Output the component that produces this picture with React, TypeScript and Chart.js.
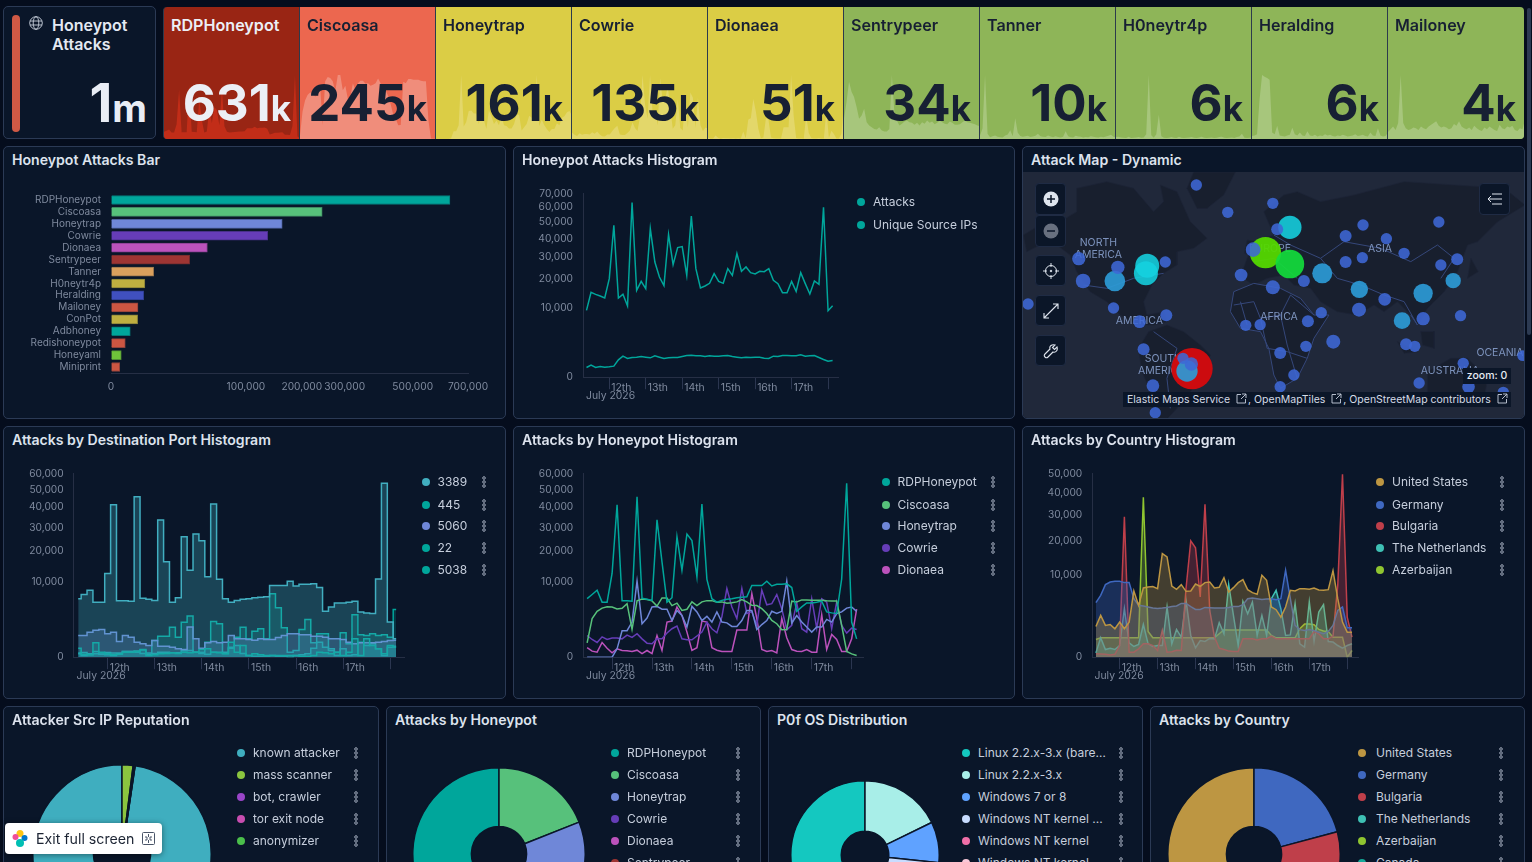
import { useEffect, useRef } from 'react';
import { Chart, LinearScale, registerables } from 'chart.js';

// square-root axis, the dashboard's charts all use one
class SqrtScale extends LinearScale {
  static id = 'sqrt';
  static defaults = LinearScale.defaults;
  getPixelForValue(value: number) {
    if (value === null || value === undefined) return NaN;
    const span = Math.sqrt(this.max) - Math.sqrt(this.min);
    return this.getPixelForDecimal((Math.sqrt(Math.max(value, 0)) - Math.sqrt(this.min)) / span);
  }
}

Chart.register(...registerables, SqrtScale);

const FONT = 'Inter, "Noto Sans", sans-serif';
const AXIS_TEXT = '#7f8a9e';
const AXIS_LINE = '#262f45';
const LEGEND_TEXT = '#c6cedc';
const TITLE_TEXT = '#dde3ee';
const PANEL_BG = '#0a1629';
const PANEL_EDGE = '#2b3a55';

// ---- data ----
const hours = [-15, -12, -9, -6, -3, 0, 3, 6, 9, 12, 15, 18, 21, 24, 27, 30, 33, 36, 39, 42, 45, 48, 51, 54, 57, 60, 63, 66, 69, 72, 75, 78, 81, 84, 87, 90, 93, 96, 99, 102, 105, 108, 111, 114, 117, 120, 123, 126, 129, 132, 135, 138, 141, 144, 147];
const dayTicks = [0, 24, 48, 72, 96, 120, 144];
const dayLabels = ['12th', '13th', '14th', '15th', '16th', '17th', ''];

const honeypots = ['RDPHoneypot', 'Ciscoasa', 'Honeytrap', 'Cowrie', 'Dionaea', 'Sentrypeer', 'Tanner', 'H0neytr4p', 'Heralding', 'Mailoney', 'ConPot', 'Adbhoney', 'Redishoneypot', 'Honeyaml', 'Miniprint'];
const honeypotTotals = [631000, 245000, 161000, 135000, 51000, 34000, 10000, 6300, 5900, 4000, 3900, 2040, 1120, 580, 415];
const honeypotColors = ['#00a69b', '#57c17b', '#6f87d8', '#663db8', '#bc52bc', '#9e3533', '#daa05d', '#bfaf40', '#4050bf', '#cc5642', '#bfaf40', '#00a69b', '#cc5642', '#6fc43a', '#cc5642'];
const barTicks = [0, 100000, 200000, 300000, 500000, 700000];

const attacks = [9280, 14970, 14270, 13700, 13030, 20190, 48000, 13030, 14270, 10530, 63460, 15680, 19100, 16290, 45940, 27600, 20880, 17420, 42300, 26350, 34900, 35470, 21580, 53900, 24500, 16540, 17290, 18320, 22300, 19100, 18320, 24500, 21580, 31760, 23310, 25260, 22730, 22150, 23310, 23170, 24500, 19500, 18190, 14850, 14850, 19100, 15320, 22730, 18190, 14380, 19240, 17930, 60100, 9190, 10620];
const uniqueIps = [195, 300, 195, 238, 209, 223, 253, 627, 920, 728, 808, 835, 892, 835, 780, 950, 835, 728, 780, 808, 808, 892, 980, 1010, 950, 950, 892, 950, 920, 920, 950, 980, 892, 835, 780, 835, 808, 835, 835, 755, 728, 920, 892, 980, 980, 950, 950, 1040, 920, 950, 980, 808, 650, 535, 580];

const rdpHoneypot = [6100, 7000, 8000, 5400, 5400, 12500, 41400, 5700, 5700, 5600, 45900, 6200, 6000, 5750, 33600, 16200, 5400, 6300, 25800, 13500, 27000, 24200, 11500, 41800, 10800, 6100, 5400, 5750, 6000, 6100, 6300, 6400, 6500, 9150, 9150, 9150, 10300, 9050, 9500, 9500, 9600, 8650, 3750, 4500, 5250, 5250, 5400, 5600, 3650, 3500, 3400, 10900, 53900, 2200, 600];
const ciscoasa = [370, 2650, 3750, 4300, 4550, 4500, 4150, 4250, 5100, 1370, 5650, 6050, 5950, 5650, 4650, 6250, 6250, 4750, 5200, 3900, 4100, 5450, 4750, 5450, 5700, 5700, 5400, 5450, 5200, 5300, 5450, 5900, 5450, 4800, 4750, 4200, 3400, 2400, 2000, 1350, 1370, 5600, 5450, 5850, 5850, 5780, 5780, 5780, 5700, 5650, 5650, 1800, 60, 20, 5];
const honeytrap = [0, 0, 0, 0, 0, 0, 125, 1250, 1250, 2200, 10300, 2000, 2740, 4500, 4600, 4100, 4100, 2400, 3900, 3100, 1620, 4600, 3650, 2400, 2970, 2200, 3650, 2200, 2100, 1690, 1690, 2400, 3900, 3900, 1370, 1900, 2400, 3750, 3400, 3750, 10300, 2080, 3100, 2200, 1620, 1120, 1620, 1620, 2550, 2200, 3400, 3650, 4300, 4500, 3750];
const cowrie = [840, 560, 385, 740, 560, 650, 650, 600, 870, 700, 980, 600, 350, 320, 600, 600, 1040, 1445, 1730, 600, 540, 540, 800, 1120, 2200, 1445, 1065, 2900, 8400, 4500, 2650, 8400, 3400, 3700, 1800, 8000, 4900, 5100, 7000, 4200, 1340, 1800, 5250, 1445, 1120, 6100, 1500, 6100, 5400, 1445, 5400, 1800, 1040, 1500, 1370];
const dionaea = [160, 65, 45, 385, 145, 35, 125, 80, 72, 58, 88, 24, 80, 24, 840, 80, 2200, 2330, 4500, 3100, 1120, 80, 160, 2330, 2200, 160, 88, 58, 58, 58, 1310, 1310, 1310, 7200, 2650, 105, 58, 80, 34, 2650, 670, 105, 65, 58, 105, 45, 45, 3230, 105, 925, 560, 58, 58, 600, 4100];
const sentrypeer = [660, 1210, 1870, 1540, 1375, 1045, 660, 770, 990, 550, 440, 385, 330, 308, 385, 275, 242, 242, 330, 2090, 880, 605, 440, 495, 572, 605, 550, 528, 462, 528, 440, 550, 495, 605, 528, 572, 484, 528, 605, 550, 495, 484, 572, 528, 462, 462, 484, 550, 605, 550, 528, 506, 484, 440, 418];
const tanner = [140, 420, 2590, 210, 70, 110, 140, 90, 70, 60, 140, 180, 350, 110, 840, 250, 120, 90, 110, 130, 80, 100, 130, 210, 110, 90, 80, 140, 100, 70, 110, 80, 60, 90, 310, 110, 70, 60, 130, 100, 90, 60, 80, 70, 110, 90, 70, 60, 90, 70, 100, 130, 170, 90, 70];
const h0neytr4p = [60, 70, 50, 40, 30, 70, 30, 40, 50, 60, 40, 50, 150, 2035, 120, 40, 150, 770, 90, 40, 30, 40, 60, 40, 30, 70, 40, 30, 40, 50, 60, 40, 30, 50, 70, 40, 30, 40, 50, 30, 40, 60, 70, 40, 30, 40, 50, 30, 60, 80, 170, 40, 30, 40, 50];
const heralding = [50, 60, 80, 660, 1070, 1040, 1020, 990, 110, 80, 220, 60, 50, 40, 60, 70, 190, 80, 60, 110, 60, 50, 130, 60, 50, 70, 40, 60, 50, 80, 60, 70, 50, 40, 60, 50, 70, 60, 40, 50, 60, 80, 50, 60, 70, 50, 40, 110, 60, 50, 180, 60, 40, 50, 110];
const mailoney = [40, 55, 70, 50, 90, 360, 90, 60, 50, 55, 65, 60, 50, 70, 60, 55, 70, 80, 90, 100, 75, 65, 70, 65, 55, 60, 85, 75, 100, 70, 60, 55, 65, 50, 75, 60, 50, 45, 65, 55, 70, 60, 50, 45, 80, 60, 55, 70, 65, 75, 50, 45, 60, 55, 110];

const port445 = [145, 16, 10, 368, 45, 20, 10, 16, 45, 45, 58, 105, 5, 10, 20, 24, 34, 24, 45, 34, 45, 105, 124, 45, 34, 20, 403, 45, 244, 5, 20, 10, 5, 5, 5, 5, 5, 5, 2, 2, 5, 45, 34, 20, 45, 5, 45, 602, 5, 602, 244, 124, 20, 244, 179];
const port5060 = [840, 840, 1120, 1305, 1370, 975, 1120, 440, 840, 716, 403, 318, 244, 497, 217, 217, 179, 124, 105, 1612, 602, 145, 368, 440, 368, 403, 840, 602, 602, 559, 518, 602, 559, 559, 693, 840, 975, 975, 893, 893, 790, 790, 716, 602, 602, 559, 403, 318, 368, 368, 368, 403, 440, 497, 518];
const port22 = [30, 40, 20, 60, 30, 40, 30, 30, 60, 60, 70, 90, 30, 497, 790, 790, 1610, 716, 2190, 3010, 45, 45, 403, 2280, 1990, 45, 179, 716, 1610, 602, 1210, 1440, 602, 7180, 4360, 1540, 45, 80, 1370, 2540, 368, 975, 975, 80, 45, 1060, 318, 3210, 893, 840, 975, 840, 893, 716, 4070];
const port5038 = [20, 5, 10, 20, 16, 10, 5, 20, 58, 58, 45, 24, 16, 24, 45, 45, 34, 34, 72, 80, 45, 24, 16, 45, 45, 24, 145, 244, 24, 5, 2, 2, 2, 5, 2, 2, 0, 5, 10, 20, 145, 403, 179, 124, 5, 124, 5, 10, 403, 244, 318, 124, 5, 179, 217];

const unitedStates = [1405, 2590, 1500, 1590, 1200, 1830, 1200, 1830, 6500, 3990, 7110, 7320, 7400, 6980, 15950, 14940, 7530, 6840, 7820, 6440, 6500, 7960, 7460, 8260, 8410, 7110, 7250, 9400, 6310, 7180, 8260, 8930, 6770, 6180, 5870, 9960, 8780, 3740, 3350, 2390, 3740, 6640, 6500, 6980, 6980, 6840, 7110, 6710, 6640, 6770, 11140, 5080, 1830, 930, 930];
const germany = [4410, 5680, 7820, 8400, 8550, 8550, 8260, 8260, 5080, 3990, 3890, 3740, 3590, 3530, 3590, 3680, 3800, 3890, 4300, 4300, 3800, 3390, 3390, 3680, 3630, 3590, 3590, 3590, 3680, 3800, 3800, 4090, 5080, 5200, 5080, 4950, 5010, 5080, 4900, 5080, 11220, 5080, 1500, 1130, 1050, 1130, 1050, 930, 820, 980, 1500, 3250, 3740, 1290, 1290];
const bulgaria = [17, 15, 12, 8, 12, 200, 29300, 37, 37, 104, 265, 265, 200, 66, 1060, 37, 45, 70, 66, 7000, 20100, 17750, 5380, 34700, 3250, 600, 120, 90, 55, 48, 48, 500, 500, 500, 440, 500, 500, 660, 500, 500, 500, 500, 500, 500, 500, 500, 985, 815, 500, 500, 660, 7670, 49700, 2390, 600];
const netherlands = [28, 558, 88, 121, 88, 203, 3490, 307, 170, 240, 1590, 266, 170, 203, 203, 3735, 266, 1144, 598, 4800, 701, 130, 415, 367, 520, 500, 1760, 813, 7820, 2590, 203, 4630, 2800, 4520, 700, 2590, 700, 5080, 6640, 3490, 700, 740, 4250, 266, 150, 4520, 367, 3020, 4090, 367, 340, 203, 121, 203, 266];
const azerbaijan = [466, 558, 558, 558, 558, 558, 558, 558, 558, 558, 37930, 984, 558, 558, 558, 558, 558, 558, 558, 558, 558, 558, 558, 558, 558, 558, 813, 1116, 1100, 1100, 1100, 1100, 1100, 1100, 1100, 1100, 1100, 701, 558, 558, 558, 558, 558, 1200, 1627, 1627, 1560, 1144, 1020, 980, 598, 598, 598, 0, 66];

const reputationLabels = ['known attacker', 'mass scanner', 'bot, crawler', 'tor exit node', 'anonymizer'];
const reputationValues = [97.5, 2, 0.2, 0.1, 0.05];
const reputationColors = ['#3faebf', '#8bc53f', '#9a45c8', '#c84db0', '#4bbf4b'];
const osLabels = ['Linux 2.2.x-3.x (bare…', 'Linux 2.2.x-3.x', 'Windows 7 or 8', 'Windows NT kernel ...', 'Windows NT kernel', 'Windows NT kernel'];
const osValues = [180, 64, 32, 38, 26, 20];
const osColors = ['#14c8c0', '#a8eee8', '#5fa2ff', '#c8dcff', '#f06fa8', '#f8c8d8'];
const countryLabels = ['United States', 'Germany', 'Bulgaria', 'The Netherlands', 'Azerbaijan', 'Canada'];
const countryValues = [420000, 175000, 98000, 65000, 47000, 35000];
const countryColors = ['#bd9642', '#3f68c0', '#bf3f4a', '#3ec0b4', '#8fc530', '#14a898'];

// map polygons and bubbles, in 3x crop units of the map panel
const landShapes = [
  [[10, 270], [60, 240], [120, 230], [170, 200], [170, 130], [260, 110], [340, 130], [400, 200], [430, 170], [420, 120], [470, 140], [510, 230], [560, 280], [520, 310], [470, 320], [470, 360], [430, 385], [395, 420], [370, 470], [380, 510], [430, 500], [440, 530], [400, 540], [350, 540], [300, 510], [260, 470], [210, 440], [170, 380], [150, 330], [110, 300], [60, 300], [20, 320]],
  [[520, 81], [645, 81], [610, 150], [560, 190], [530, 190], [500, 130]],
  [[385, 560], [440, 540], [490, 560], [540, 600], [570, 630], [545, 700], [510, 740], [470, 790], [440, 822], [395, 822], [400, 760], [365, 680], [355, 610]],
  [[640, 440], [700, 415], [780, 430], [840, 460], [880, 510], [925, 510], [880, 580], [860, 640], [830, 700], [780, 730], [760, 690], [745, 610], [720, 560], [660, 550], [630, 500]],
  [[660, 395], [680, 340], [700, 290], [760, 270], [730, 200], [790, 150], [830, 140], [900, 170], [1000, 150], [1150, 110], [1300, 120], [1450, 130], [1512, 180], [1430, 230], [1370, 290], [1340, 300], [1310, 380], [1270, 440], [1220, 490], [1190, 540], [1170, 510], [1130, 470], [1090, 500], [1060, 480], [1010, 510], [950, 500], [900, 470], [870, 430], [820, 420], [790, 390], [740, 400], [700, 420]],
  [[1220, 680], [1290, 640], [1340, 640], [1400, 700], [1390, 760], [1330, 780], [1280, 750], [1220, 760]],
  [[1130, 590], [1190, 620], [1150, 625]],
  [[1350, 340], [1372, 380], [1340, 400]],
  [[680, 285], [702, 290], [692, 332], [672, 325]],
  [[1200, 560], [1240, 560], [1240, 610], [1205, 600]],
];
const borderLines = [
  [[640, 440], [700, 415], [780, 430], [840, 460], [880, 510], [925, 510], [880, 580], [860, 640], [830, 700], [780, 730], [760, 690], [745, 610], [720, 560], [660, 550], [630, 500], [640, 440]],
  [[640, 480], [700, 470], [720, 520], [780, 510], [810, 450]],
  [[720, 520], [740, 610], [800, 620], [860, 640]],
  [[780, 510], [800, 600], [830, 700]],
  [[660, 470], [680, 540]],
  [[810, 450], [880, 510]],
  [[900, 340], [970, 290], [1080, 310], [1170, 350], [1250, 300], [1300, 340], [1260, 400]],
  [[900, 340], [950, 400], [1020, 420], [1090, 450], [1150, 470]],
  [[1150, 470], [1190, 540], [1170, 510]],
  [[760, 270], [810, 300], [900, 340]],
  [[700, 350], [760, 340], [830, 400]],
  [[190, 420], [260, 430], [340, 400], [430, 385]],
  [[400, 560], [470, 610], [440, 700], [450, 790]],
];
const smallBubbles = [[698, 314, 22], [513, 657, 20], [488, 640, 17], [528, 120, 17], [622, 202, 17], [757, 175, 17], [770, 253, 18], [1027, 240, 17], [975, 273, 18], [1097, 281, 17], [1254, 231, 17], [1150, 325, 17], [1025, 338, 17], [975, 351, 18], [1260, 360, 17], [1309, 343, 18], [435, 351, 17], [176, 341, 20], [293, 367, 20], [189, 408, 22], [24, 477, 17], [280, 489, 17], [438, 511, 18], [358, 530, 19], [662, 390, 19], [757, 427, 21], [850, 408, 18], [1092, 463, 19], [1015, 494, 21], [1207, 521, 20], [1319, 512, 17], [902, 503, 17], [862, 529, 18], [719, 539, 17], [676, 541, 17], [938, 590, 21], [856, 604, 17], [779, 624, 18], [370, 613, 18], [1156, 598, 18], [1182, 604, 17], [1327, 655, 17], [820, 690, 17], [398, 722, 19], [1195, 714, 17], [779, 725, 17], [1343, 725, 19], [1447, 742, 17], [405, 803, 17], [1505, 632, 16]];
const midBubbles = [[1297, 407, 23], [1207, 445, 29], [1144, 527, 25], [1016, 433, 26], [905, 385, 30], [284, 408, 31], [500, 678, 32]];
const cyanBubbles = [[808, 247, 35], [381, 362, 36], [377, 385, 36]];
const greenBubbles = [[735, 323, 47], [808, 357, 43]];
const redBubbles = [[515, 671, 62]];
const mapLabels = [
  ['NORTH', 235, 292], ['AMERICA', 235, 328], ['AMERICA', 358, 524], ['EUROPE', 750, 310], ['ASIA', 1080, 310],
  ['AFRICA', 777, 514], ['SOUTH', 430, 638], ['AMERICA', 425, 675], ['OCEANIA', 1440, 620], ['AUSTRALIA', 1290, 675],
];

// ---- chart configs ----
const toPoints = (values: number[]) => values.map((y, i) => ({ x: hours[i], y }));
const toXY = (list: number[][]) => list.map(([x, y]) => ({ x, y }));
const toBubbles = (list: number[][]) => list.map(([x, y, r]) => ({ x, y, r: r / 3 }));

function lineSet(label: string, values: number[], color: string, extra = {}) {
  return {
    label,
    data: toPoints(values),
    borderColor: color,
    borderWidth: 1.5,
    pointRadius: 0,
    tension: 0,
    ...extra,
  };
}

function timeConfig(box: any, plot: any, yMax: number, yTicks: number[], datasets: any[]) {
  return {
    type: 'line',
    data: { datasets },
    options: {
      animation: false,
      responsive: false,
      events: [],
      layout: { autoPadding: false, padding: { top: plot.top, right: box.width - plot.right, left: 0, bottom: 0 } },
      plugins: { legend: { display: false }, tooltip: { enabled: false } },
      scales: {
        x: {
          type: 'linear',
          min: -17.3,
          max: 151,
          afterBuildTicks: (s: any) => { s.ticks = dayTicks.map((value) => ({ value })); },
          afterFit: (s: any) => { s.height = box.height - plot.bottom; s.paddingLeft = 0; s.paddingRight = 0; },
          grid: { drawOnChartArea: false, drawTicks: true, tickLength: 12, tickColor: '#2b3650' },
          border: { color: AXIS_LINE },
          ticks: {
            autoSkip: false,
            maxRotation: 0,
            align: 'start',
            labelOffset: 2,
            padding: -8,
            color: AXIS_TEXT,
            font: { family: FONT, size: 10.4 },
            callback: (v: number) => dayLabels[dayTicks.indexOf(v)] ?? '',
          },
        },
        y: {
          type: 'sqrt',
          min: 0,
          max: yMax,
          afterBuildTicks: (s: any) => { s.ticks = yTicks.map((value) => ({ value })); },
          afterFit: (s: any) => { s.width = plot.left; s.paddingTop = 0; s.paddingBottom = 0; },
          grid: { drawOnChartArea: false, drawTicks: false },
          border: { color: AXIS_LINE },
          ticks: {
            padding: 10,
            color: AXIS_TEXT,
            font: { family: FONT, size: 10.2 },
            callback: (v: number) => v.toLocaleString('en-US'),
          },
        },
      },
    },
  };
}

const barBox = { width: 503, height: 273 };
const barConfig = () => ({
  type: 'bar',
  data: {
    labels: honeypots,
    datasets: [{
      data: honeypotTotals,
      backgroundColor: honeypotColors,
      borderColor: honeypotColors.map((c) => c + 'b0'),
      borderWidth: 1,
      barThickness: 9,
    }],
  },
  options: {
    indexAxis: 'y',
    animation: false,
    responsive: false,
    events: [],
    layout: { autoPadding: false, padding: { top: 48, right: 38, left: 0, bottom: 0 } },
    plugins: { legend: { display: false }, tooltip: { enabled: false } },
    scales: {
      x: {
        type: 'sqrt',
        min: 0,
        max: 700000,
        afterBuildTicks: (s: any) => { s.ticks = barTicks.map((value) => ({ value })); },
        afterFit: (s: any) => { s.height = 46; s.paddingLeft = 0; s.paddingRight = 0; },
        grid: { drawOnChartArea: false, drawTicks: false },
        border: { color: AXIS_LINE },
        ticks: {
          autoSkip: false,
          maxRotation: 0,
          padding: 8,
          color: AXIS_TEXT,
          font: { family: FONT, size: 10.2 },
          callback: (v: number) => v.toLocaleString('en-US'),
        },
      },
      y: {
        afterFit: (s: any) => { s.width = 108; },
        grid: { display: false },
        border: { display: false },
        ticks: {
          autoSkip: false,
          padding: 2,
          color: AXIS_TEXT,
          font: { family: FONT, size: 10 },
        },
      },
    },
  },
});

const mapScales = {
  x: { type: 'linear', display: false, min: 6, max: 1512 },
  y: { type: 'linear', display: false, min: 81, max: 822, reverse: true },
};
const baseMapConfig = () => ({
  type: 'scatter',
  data: {
    datasets: [
      ...borderLines.map((line) => ({
        data: toXY(line),
        showLine: true,
        borderColor: '#35477a',
        borderWidth: 1,
        pointRadius: 0,
      })),
      ...landShapes.map((shape) => ({
        data: toXY([...shape, shape[0]]),
        showLine: true,
        fill: 'shape',
        backgroundColor: '#181f2e',
        borderColor: '#1c2436',
        borderWidth: 0.7,
        pointRadius: 0,
      })),
    ],
  },
  options: {
    animation: false,
    responsive: false,
    events: [],
    layout: { autoPadding: false },
    plugins: { legend: { display: false }, tooltip: { enabled: false } },
    scales: mapScales,
  },
});
const bubbleMapConfig = () => ({
  type: 'bubble',
  data: {
    datasets: [
      { data: toBubbles(smallBubbles), backgroundColor: 'rgba(62,104,214,0.88)', borderWidth: 0 },
      { data: toBubbles(midBubbles), backgroundColor: 'rgba(44,154,214,0.92)', borderWidth: 0 },
      { data: toBubbles(cyanBubbles), backgroundColor: 'rgba(20,210,224,0.88)', borderWidth: 0 },
      { data: toBubbles(greenBubbles), backgroundColor: ['rgba(84,216,0,0.95)', 'rgba(20,220,60,0.92)'], borderWidth: 0 },
      { data: toBubbles(redBubbles), backgroundColor: '#cc0b0f', borderWidth: 0 },
    ],
  },
  options: {
    animation: false,
    responsive: false,
    events: [],
    layout: { autoPadding: false },
    plugins: { legend: { display: false }, tooltip: { enabled: false } },
    scales: mapScales,
  },
});

function sparkConfig(values: number[], color: string) {
  return {
    type: 'line',
    data: {
      datasets: [lineSet('', values, color, { borderWidth: 0, fill: 'origin', backgroundColor: color })],
    },
    options: {
      animation: false,
      responsive: false,
      events: [],
      layout: { autoPadding: false },
      plugins: { legend: { display: false }, tooltip: { enabled: false } },
      scales: {
        x: { type: 'linear', display: false, min: -15, max: 147 },
        y: { type: 'linear', display: false, min: 0, max: Math.max(...values) },
      },
    },
  };
}

// the first slice runs counter-clockwise from 12 o'clock, the rest clockwise
function donutConfig(values: number[], colors: string[], cutout: string) {
  const total = values.reduce((a, b) => a + b, 0);
  return {
    type: 'doughnut',
    data: {
      datasets: [{ data: values, backgroundColor: colors, borderColor: PANEL_BG, borderWidth: 1.5 }],
    },
    options: {
      animation: false,
      responsive: false,
      events: [],
      rotation: -(values[0] / total) * 360,
      cutout,
      plugins: { legend: { display: false }, tooltip: { enabled: false } },
    },
  };
}

// ---- small pieces ----
function ChartCanvas({ left, top, width, height, config }: any) {
  const ref = useRef<HTMLCanvasElement>(null);
  useEffect(() => {
    if (!ref.current) return;
    const chart = new Chart(ref.current, config());
    return () => chart.destroy();
  }, [config]);
  return <canvas ref={ref} width={width} height={height} style={{ position: 'absolute', left, top, width, height, display: 'block' }} />;
}

function Text({ x, y, size = 12, color = LEGEND_TEXT, weight = 400, children }: any) {
  return (
    <div style={{ position: 'absolute', left: x, top: y, transform: 'translateY(-50%)', fontSize: size, color, fontWeight: weight, whiteSpace: 'nowrap', lineHeight: 1.1 }}>
      {children}
    </div>
  );
}

function Panel({ x, y, w, h, title }: any) {
  return (
    <>
      <div style={{ position: 'absolute', left: x, top: y, width: w, height: h, background: PANEL_BG, border: `1px solid ${PANEL_EDGE}`, borderRadius: 5, boxSizing: 'border-box' }} />
      <Text x={x + 9} y={y + 14} size={14.1} weight={600} color={TITLE_TEXT}>{title}</Text>
    </>
  );
}

function LegendDots({ x, y }: any) {
  return (
    <svg style={{ position: 'absolute', left: x - 3, top: y - 6 }} width="6" height="12" viewBox="0 0 6 12">
      {[2, 6, 10].map((cy) => <circle key={cy} cx="3" cy={cy} r="1.3" fill="none" stroke="#aeb7c7" strokeWidth="0.9" />)}
    </svg>
  );
}

function Legend({ dotX, textX, menuX, ys, labels, colors }: any) {
  return (
    <>
      {labels.map((label: string, i: number) => (
        <div key={i}>
          <div style={{ position: 'absolute', left: dotX - 4, top: ys[i] - 4, width: 8, height: 8, borderRadius: 4, background: colors[i] }} />
          <Text x={textX} y={ys[i]}>{label}</Text>
          {menuX ? <LegendDots x={menuX} y={ys[i]} /> : null}
        </div>
      ))}
    </>
  );
}

function JulyLabel({ x, y }: any) {
  return <Text x={x} y={y} size={10.4} color={AXIS_TEXT}>July 2026</Text>;
}

function Tile({ left, width = 136, radius = '0', label, big, color, spark, ink, series }: any) {
  const config = useRef(() => sparkConfig(series, spark)).current;
  return (
    <div style={{ position: 'absolute', left, top: 7, width, height: 132, background: color, borderLeft: '1px solid #2c3a4c', boxSizing: 'border-box', overflow: 'hidden', borderRadius: radius }}>
      <ChartCanvas left={0} top={68} width={width} height={64} config={config} />
      <div style={{ position: 'absolute', left: 7, top: 7.5, fontSize: 16.1, fontWeight: 600, color: ink, whiteSpace: 'nowrap' }}>{label}</div>
      <div style={{ position: 'absolute', right: 8, top: 66, height: 60, lineHeight: '60px', fontSize: 51, fontWeight: 700, color: ink, whiteSpace: 'nowrap' }}>
        {big}<span style={{ fontSize: 35 }}>k</span>
      </div>
    </div>
  );
}

const MapButton = ({ x, y, h = 31, children }: any) => (
  <div style={{ position: 'absolute', left: x, top: y, width: 31, height: h, background: '#0b1628', border: '1px solid #1f2b44', borderRadius: 4, boxSizing: 'border-box', display: 'flex', alignItems: 'center', justifyContent: 'center' }}>
    {children}
  </div>
);

const ExternalIcon = () => (
  <svg width="11" height="11" viewBox="0 0 11 11" style={{ margin: '0 1px 0 6px', verticalAlign: -1 }}>
    <path d="M5 1.5H1v8.5h8.5V6M6 1h4v4M10 1 5 6" fill="none" stroke="#c6cedc" strokeWidth="0.9" />
  </svg>
);

// ---- per-chart config makers, kept stable for useEffect ----
const histBox = { width: 500, height: 273 };
const histConfig = () => timeConfig(histBox, { left: 70, top: 47.7, right: 325.7, bottom: 231.2 }, 70000, [0, 10000, 20000, 30000, 40000, 50000, 60000, 70000], [
  lineSet('Attacks', attacks, '#00a69b'),
  lineSet('Unique Source IPs', uniqueIps, '#00a69b'),
]);
const portConfig = () => timeConfig(barBox, { left: 70.7, top: 47.7, right: 401, bottom: 231.2 }, 60000, [0, 10000, 20000, 30000, 40000, 50000, 60000], [
  lineSet('3389', rdpHoneypot, '#41aec0', { stepped: 'middle', fill: 'origin', backgroundColor: 'rgba(65,174,192,0.3)' }),
  lineSet('445', port445, '#00a69b', { stepped: 'middle', fill: 'origin', backgroundColor: 'rgba(0,166,155,0.22)' }),
  lineSet('5060', port5060, '#6f87d8', { stepped: 'middle', fill: 'origin', backgroundColor: 'rgba(111,135,216,0.25)' }),
  lineSet('22', port22, '#00a69b', { stepped: 'middle', fill: 'origin', backgroundColor: 'rgba(0,166,155,0.22)' }),
  lineSet('5038', port5038, '#00a69b', { stepped: 'middle', fill: 'origin', backgroundColor: 'rgba(0,166,155,0.22)' }),
]);
const honeypotConfig = () => timeConfig(histBox, { left: 70.3, top: 47.7, right: 350.3, bottom: 231.2 }, 60000, [0, 10000, 20000, 30000, 40000, 50000, 60000], [
  lineSet('RDPHoneypot', rdpHoneypot, '#00a69b'),
  lineSet('Ciscoasa', ciscoasa, '#57c17b'),
  lineSet('Honeytrap', honeytrap, '#6f87d8'),
  lineSet('Cowrie', cowrie, '#663db8'),
  lineSet('Dionaea', dionaea, '#bc52bc'),
]);
const countryConfig = () => timeConfig(histBox, { left: 70.3, top: 47.7, right: 336.3, bottom: 231.2 }, 50000, [0, 10000, 20000, 30000, 40000, 50000], [
  lineSet('United States', unitedStates, '#bd9642', { fill: 'origin', backgroundColor: 'rgba(189,150,66,0.32)' }),
  lineSet('Germany', germany, '#3f68c0', { fill: 'origin', backgroundColor: 'rgba(63,104,192,0.32)' }),
  lineSet('Bulgaria', bulgaria, '#bf3f4a', { fill: 'origin', backgroundColor: 'rgba(191,63,74,0.32)' }),
  lineSet('The Netherlands', netherlands, '#3ec0b4', { fill: 'origin', backgroundColor: 'rgba(62,192,180,0.32)' }),
  lineSet('Azerbaijan', azerbaijan, '#8fc530', { fill: 'origin', backgroundColor: 'rgba(143,197,48,0.32)' }),
]);
const reputationDonut = () => donutConfig(reputationValues, reputationColors, '32%');
const honeypotDonut = () => donutConfig(honeypotTotals, honeypotColors, '32%');
const osDonut = () => donutConfig(osValues, osColors, '32%');
const countryDonut = () => donutConfig(countryValues, countryColors, '32%');

const rowTwoYs = [482, 504.5, 526, 548, 570];
const rowThreeYs = [752.5, 774.5, 797, 818.5, 841, 863];

export default function App() {
  return (
    <div style={{ position: 'relative', width: 1532, height: 862, overflow: 'hidden', background: '#050d1d', fontFamily: FONT }}>
      <style>{'html,body{margin:0;padding:0;overflow:hidden;background:#050d1d}'}</style>

      {/* metric strip */}
      <div style={{ position: 'absolute', left: 3, top: 6, width: 153, height: 133, background: PANEL_BG, border: `1px solid ${PANEL_EDGE}`, borderRadius: 5, boxSizing: 'border-box' }} />
      <div style={{ position: 'absolute', left: 12, top: 15, width: 8, height: 117, borderRadius: 4, background: '#cf5945' }} />
      <svg style={{ position: 'absolute', left: 29, top: 16 }} width="14" height="14" viewBox="0 0 14 14" fill="none" stroke="#c9d1de" strokeWidth="0.9">
        <circle cx="7" cy="7" r="6.3" /><ellipse cx="7" cy="7" rx="2.8" ry="6.3" /><path d="M1 5h12M1 9h12" />
      </svg>
      <div style={{ position: 'absolute', left: 52, top: 15.5, fontSize: 16, fontWeight: 600, lineHeight: '19px', color: '#e4e9f2' }}>Honeypot<br />Attacks</div>
      <div style={{ position: 'absolute', right: 1532 - 147, top: 73, height: 60, lineHeight: '60px', fontSize: 53, fontWeight: 700, color: '#e9edf5' }}>
        1<span style={{ fontSize: 38 }}>m</span>
      </div>

      <Tile left={163} radius="4px 0 0 4px" label="RDPHoneypot" big="631" color="#992514" spark="#c22d18" ink="#eceff6" series={rdpHoneypot} />
      <Tile left={299} label="Ciscoasa" big="245" color="#ec674f" spark="#f08d7b" ink="#172033" series={ciscoasa} />
      <Tile left={435} label="Honeytrap" big="161" color="#dbcd45" spark="#e3d76a" ink="#172033" series={honeytrap} />
      <Tile left={571} label="Cowrie" big="135" color="#dbcd45" spark="#e3d76a" ink="#172033" series={cowrie} />
      <Tile left={707} label="Dionaea" big="51" color="#dbcd45" spark="#e3d76a" ink="#172033" series={dionaea} />
      <Tile left={843} label="Sentrypeer" big="34" color="#8eb558" spark="#a7c67c" ink="#172033" series={sentrypeer} />
      <Tile left={979} label="Tanner" big="10" color="#8eb558" spark="#a7c67c" ink="#172033" series={tanner} />
      <Tile left={1115} label="H0neytr4p" big="6" color="#8eb558" spark="#a7c67c" ink="#172033" series={h0neytr4p} />
      <Tile left={1251} label="Heralding" big="6" color="#8eb558" spark="#a7c67c" ink="#172033" series={heralding} />
      <Tile left={1387} width={137} radius="0 4px 4px 0" label="Mailoney" big="4" color="#8eb558" spark="#a7c67c" ink="#172033" series={mailoney} />

      {/* scrollbar */}
      <div style={{ position: 'absolute', left: 1527, top: 8, width: 4, height: 327, background: '#2c3a52', borderRadius: 2 }} />

      {/* row one */}
      <Panel x={3} y={146} w={503} h={273} title="Honeypot Attacks Bar" />
      <ChartCanvas left={3} top={146} width={503} height={273} config={barConfig} />

      <Panel x={513} y={146} w={502} h={273} title="Honeypot Attacks Histogram" />
      <ChartCanvas left={513} top={146} width={500} height={273} config={histConfig} />
      <JulyLabel x={586} y={395.5} />
      <Legend dotX={861} textX={873} ys={[202, 225]} labels={['Attacks', 'Unique Source IPs']} colors={['#00a69b', '#00a69b']} />

      <Panel x={1022} y={146} w={503} h={273} title="Attack Map - Dynamic" />
      <div style={{ position: 'absolute', left: 1023, top: 172, width: 501, height: 246, overflow: 'hidden', background: '#20283a', borderRadius: '0 0 4px 4px' }}>
        <ChartCanvas left={-1} top={0} width={503} height={247} config={baseMapConfig} />
        {mapLabels.map(([text, zx, zy]: any, i) => (
          <div key={i} style={{ position: 'absolute', left: (zx as number) / 3 - 3, top: (zy as number) / 3 - 27, transform: 'translate(-50%, -50%)', fontSize: 10.5, color: '#7d93bd', whiteSpace: 'nowrap' }}>{text}</div>
        ))}
        <ChartCanvas left={-1} top={0} width={503} height={247} config={bubbleMapConfig} />
      </div>
      <MapButton x={1035} y={183} h={32}>
        <svg width="16" height="16" viewBox="0 0 16 16"><circle cx="8" cy="8" r="7.5" fill="#dfe5ee" /><path d="M4 8h8M8 4v8" stroke="#0b1628" strokeWidth="1.5" /></svg>
      </MapButton>
      <MapButton x={1035} y={215} h={32}>
        <svg width="16" height="16" viewBox="0 0 16 16"><circle cx="8" cy="8" r="7.5" fill="#68707f" /><path d="M4 8h8" stroke="#0b1628" strokeWidth="1.5" /></svg>
      </MapButton>
      <MapButton x={1035} y={255}>
        <svg width="16" height="16" viewBox="0 0 16 16" fill="none" stroke="#dfe5ee"><circle cx="8" cy="8" r="5.5" /><circle cx="8" cy="8" r="0.8" fill="#dfe5ee" /><path d="M8 0v4M8 12v4M0 8h4M12 8h4" /></svg>
      </MapButton>
      <MapButton x={1035} y={295}>
        <svg width="16" height="16" viewBox="0 0 16 16" fill="none" stroke="#dfe5ee" strokeWidth="1.1"><path d="M1 15 15 1M10 1h5v5M1 10v5h5" /></svg>
      </MapButton>
      <MapButton x={1035} y={335}>
        <svg width="16" height="16" viewBox="0 0 16 16" fill="none" stroke="#dfe5ee" strokeWidth="1.1"><path d="M2 14c-1-1-1-2 0-3l5-5c-1-3 2-5 5-4L9.5 4.5 11.5 6.5 14 4c1 3-1 6-4 5l-5 5c-1 1-2 1-3 0Z" /></svg>
      </MapButton>
      <MapButton x={1479} y={183} h={32}>
        <svg width="16" height="12" viewBox="0 0 16 12" fill="none" stroke="#dfe5ee" strokeWidth="1"><path d="M5 1h10M1 6h14M5 11h10M4 3 1 6l3 3" /></svg>
      </MapButton>
      <div style={{ position: 'absolute', left: 1463, top: 368, width: 48, height: 16, background: '#0b1628', color: '#e6ebf3', fontSize: 10.5, fontWeight: 500, lineHeight: '16px', textAlign: 'center' }}>zoom: 0</div>
      <div style={{ position: 'absolute', left: 1123, top: 392, width: 388, height: 15, background: '#0b1628', color: '#d5dbe6', fontSize: 10.5, lineHeight: '15px', paddingLeft: 4, boxSizing: 'border-box', whiteSpace: 'nowrap' }}>
        Elastic Maps Service<ExternalIcon />, OpenMapTiles<ExternalIcon />, OpenStreetMap contributors<ExternalIcon />
      </div>

      {/* row two */}
      <Panel x={3} y={426} w={503} h={273} title="Attacks by Destination Port Histogram" />
      <ChartCanvas left={3} top={426} width={503} height={273} config={portConfig} />
      <JulyLabel x={76.5} y={675.5} />
      <Legend dotX={425.5} textX={437.5} menuX={483.5} ys={rowTwoYs} labels={['3389', '445', '5060', '22', '5038']} colors={['#41aec0', '#00a69b', '#6f87d8', '#00a69b', '#00a69b']} />

      <Panel x={513} y={426} w={502} h={273} title="Attacks by Honeypot Histogram" />
      <ChartCanvas left={513} top={426} width={500} height={273} config={honeypotConfig} />
      <JulyLabel x={586} y={675.5} />
      <Legend dotX={885.5} textX={897.5} menuX={992.5} ys={rowTwoYs} labels={honeypots.slice(0, 5)} colors={honeypotColors} />

      <Panel x={1022} y={426} w={503} h={273} title="Attacks by Country Histogram" />
      <ChartCanvas left={1022} top={426} width={500} height={273} config={countryConfig} />
      <JulyLabel x={1094.5} y={675.5} />
      <Legend dotX={1380} textX={1392} menuX={1502} ys={rowTwoYs} labels={countryLabels.slice(0, 5)} colors={countryColors} />

      {/* row three, runs off the bottom of the window */}
      <Panel x={3} y={706} w={376} h={273} title="Attacker Src IP Reputation" />
      <ChartCanvas left={32} top={764} width={180} height={180} config={reputationDonut} />
      <Legend dotX={240.5} textX={253} menuX={355.5} ys={rowThreeYs} labels={reputationLabels} colors={reputationColors} />

      <Panel x={386} y={706} w={375} h={273} title="Attacks by Honeypot" />
      <ChartCanvas left={412} top={767} width={174} height={174} config={honeypotDonut} />
      <Legend dotX={615} textX={627} menuX={738} ys={rowThreeYs} labels={honeypots.slice(0, 6)} colors={honeypotColors} />

      <Panel x={768} y={706} w={375} h={273} title="P0f OS Distribution" />
      <ChartCanvas left={790} top={780} width={150} height={150} config={osDonut} />
      <Legend dotX={965.5} textX={978} menuX={1120.5} ys={rowThreeYs} labels={osLabels} colors={osColors} />

      <Panel x={1150} y={706} w={375} h={273} title="Attacks by Country" />
      <ChartCanvas left={1167} top={766.5} width={174} height={174} config={countryDonut} />
      <Legend dotX={1362} textX={1376} menuX={1500.5} ys={rowThreeYs} labels={countryLabels} colors={countryColors} />

      {/* exit button */}
      <div style={{ position: 'absolute', left: 5, top: 823, width: 157, height: 31, background: '#fff', borderRadius: 4, boxShadow: '0 1px 6px rgba(0,0,0,0.45)' }}>
        <svg style={{ position: 'absolute', left: 7, top: 7 }} width="16" height="18" viewBox="0 0 16 18">
          <circle cx="8" cy="3.5" r="3.5" fill="#fec514" /><circle cx="3.5" cy="7" r="3" fill="#f04e98" />
          <circle cx="12.5" cy="8" r="3" fill="#0077cc" /><circle cx="8" cy="13" r="4" fill="#00bfb3" />
        </svg>
        <div style={{ position: 'absolute', left: 31, top: 0, lineHeight: '31px', fontSize: 14.2, color: '#1c2433', whiteSpace: 'nowrap' }}>Exit full screen</div>
        <svg style={{ position: 'absolute', left: 137, top: 9 }} width="13" height="13" viewBox="0 0 13 13" fill="none" stroke="#4a5568">
          <rect x="0.5" y="0.5" width="12" height="12" rx="1" /><path d="M6.5 2v3M6.5 8v3M3 5h2v3H3M10 5H8v3h2" />
        </svg>
      </div>
    </div>
  );
}
